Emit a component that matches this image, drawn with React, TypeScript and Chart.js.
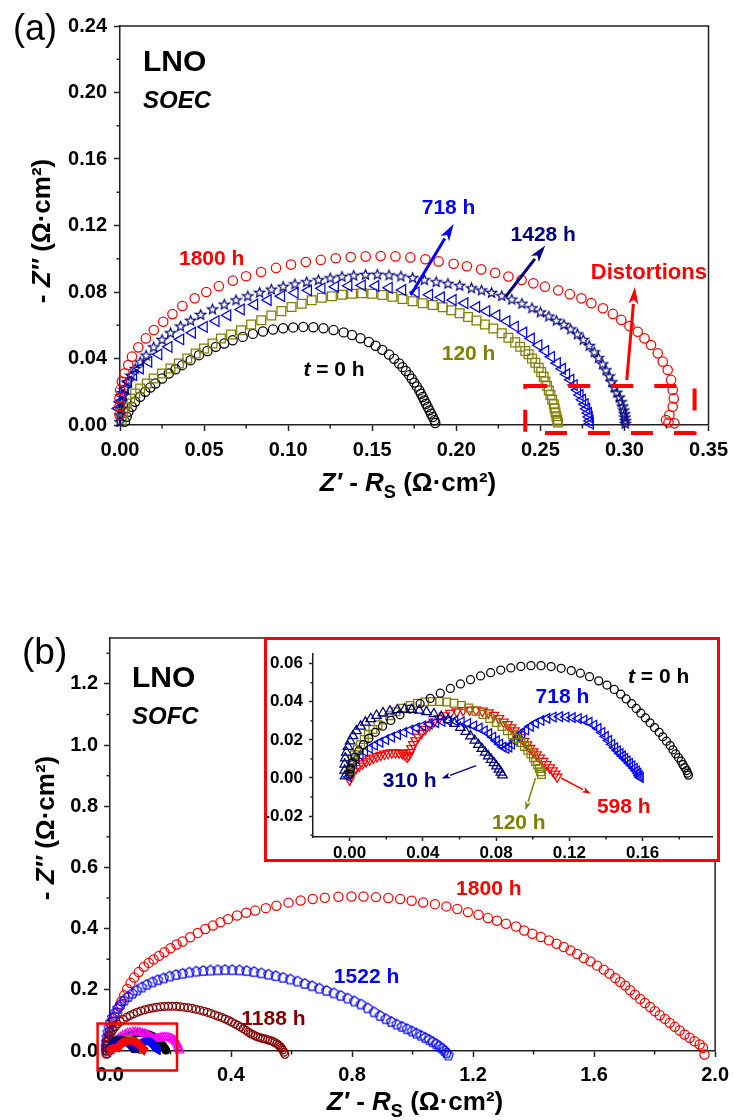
import React, { useEffect, useRef } from 'react';
import { Chart, registerables } from 'chart.js';
Chart.register(...registerables);

const FONT = '"Liberation Sans", Arial, Helvetica, sans-serif';
const RED = '#ff0000', BLUE = '#0000ff', NAVY = '#000080', OLIVE = '#808000', MAROON = '#800000', MAG = '#ff00ff', BLACK = '#000000';

type Pt = [number, number];

// ---------- Panel (a): SOEC, [Z' - Rs, -Z''] (ohm cm2) ----------
const A_T0: Pt[] = [[0.003,0.002],[0.004,0.005],[0.005,0.008],[0.007,0.011],[0.009,0.014],[0.012,0.017],[0.015,0.020],[0.018,0.0225],[0.021,0.025],[0.025,0.028],[0.029,0.031],[0.033,0.0335],[0.037,0.036],[0.042,0.039],[0.047,0.042],[0.052,0.0445],[0.057,0.047],[0.062,0.049],[0.067,0.051],[0.073,0.053],[0.079,0.0548],[0.085,0.0562],[0.091,0.0574],[0.097,0.0582],[0.103,0.0587],[0.109,0.059],[0.115,0.0588],[0.121,0.0582],[0.127,0.0571],[0.133,0.0557],[0.138,0.0541],[0.143,0.0522],[0.148,0.0499],[0.152,0.0477],[0.156,0.0452],[0.160,0.0424],[0.163,0.0398],[0.166,0.0370],[0.168,0.0348],[0.170,0.0325],[0.172,0.0300],[0.1735,0.0278],[0.175,0.0255],[0.1765,0.0232],[0.178,0.0208],[0.179,0.0188],[0.180,0.0168],[0.181,0.0148],[0.182,0.0128],[0.183,0.0108],[0.184,0.0088],[0.185,0.0068],[0.186,0.0048],[0.187,0.0028],[0.1875,0.0012]];
const A_120: Pt[] = [[0.001,0.003],[0.002,0.007],[0.003,0.010],[0.004,0.013],[0.006,0.016],[0.009,0.019],[0.012,0.022],[0.016,0.025],[0.020,0.028],[0.025,0.031],[0.030,0.034],[0.035,0.037],[0.040,0.040],[0.045,0.043],[0.050,0.046],[0.055,0.049],[0.060,0.052],[0.066,0.0545],[0.072,0.057],[0.078,0.0605],[0.084,0.063],[0.090,0.0658],[0.096,0.0685],[0.102,0.071],[0.108,0.073],[0.114,0.075],[0.120,0.0765],[0.126,0.0775],[0.132,0.0783],[0.138,0.0789],[0.144,0.0792],[0.150,0.079],[0.156,0.0782],[0.162,0.0771],[0.168,0.0758],[0.174,0.0744],[0.180,0.0732],[0.186,0.0722],[0.192,0.0708],[0.197,0.069],[0.202,0.0672],[0.207,0.065],[0.212,0.0628],[0.217,0.0605],[0.222,0.058],[0.227,0.0552],[0.231,0.0525],[0.235,0.0497],[0.238,0.047],[0.241,0.0445],[0.243,0.0425],[0.245,0.040],[0.247,0.0375],[0.249,0.0345],[0.2505,0.0318],[0.252,0.029],[0.253,0.0262],[0.254,0.0235],[0.255,0.0208],[0.256,0.018],[0.257,0.0152],[0.258,0.0125],[0.2585,0.010],[0.259,0.0076],[0.2595,0.0053],[0.260,0.0032],[0.2605,0.0015]];
const A_718: Pt[] = [[-0.003,0.001],[-0.003,0.003],[-0.002,0.006],[-0.001,0.010],[0.000,0.014],[0.001,0.018],[0.003,0.022],[0.005,0.026],[0.008,0.030],[0.012,0.034],[0.017,0.038],[0.023,0.0425],[0.029,0.047],[0.036,0.0515],[0.043,0.0555],[0.050,0.059],[0.057,0.0625],[0.064,0.066],[0.072,0.0695],[0.080,0.0725],[0.088,0.0752],[0.096,0.0775],[0.104,0.0795],[0.112,0.081],[0.120,0.0822],[0.128,0.0832],[0.136,0.0838],[0.144,0.084],[0.152,0.0836],[0.160,0.0826],[0.168,0.0812],[0.176,0.0798],[0.184,0.0783],[0.191,0.0768],[0.198,0.0752],[0.205,0.0733],[0.212,0.071],[0.218,0.0685],[0.224,0.066],[0.230,0.0625],[0.235,0.0592],[0.240,0.0556],[0.2445,0.052],[0.249,0.048],[0.253,0.0445],[0.2565,0.041],[0.260,0.0372],[0.263,0.0338],[0.2655,0.0305],[0.268,0.0272],[0.270,0.024],[0.272,0.021],[0.2735,0.018],[0.275,0.0152],[0.2765,0.0125],[0.2775,0.0098],[0.2785,0.0072],[0.279,0.0048],[0.2795,0.0025],[0.2797,0.0008]];
const A_1428: Pt[] = [[0.000,0.002],[0.000,0.006],[0.0005,0.010],[0.001,0.014],[0.002,0.018],[0.003,0.022],[0.0045,0.026],[0.0065,0.030],[0.009,0.034],[0.012,0.038],[0.0155,0.042],[0.020,0.047],[0.025,0.0515],[0.030,0.0555],[0.036,0.0595],[0.042,0.063],[0.048,0.0665],[0.055,0.0698],[0.062,0.0727],[0.069,0.0753],[0.076,0.0777],[0.083,0.0798],[0.090,0.0817],[0.097,0.0834],[0.104,0.0849],[0.111,0.0862],[0.118,0.0874],[0.125,0.0885],[0.132,0.0894],[0.139,0.0901],[0.146,0.0906],[0.153,0.0907],[0.160,0.0903],[0.167,0.0896],[0.174,0.0887],[0.181,0.0874],[0.188,0.0862],[0.195,0.0852],[0.202,0.0840],[0.209,0.0825],[0.215,0.0812],[0.221,0.0797],[0.227,0.0778],[0.233,0.0757],[0.239,0.0732],[0.245,0.0705],[0.250,0.068],[0.255,0.0655],[0.2595,0.063],[0.264,0.0605],[0.268,0.0578],[0.272,0.0548],[0.2755,0.0515],[0.279,0.0478],[0.282,0.044],[0.2845,0.0405],[0.287,0.0368],[0.289,0.0332],[0.291,0.0295],[0.2925,0.026],[0.294,0.0228],[0.2955,0.0197],[0.297,0.0168],[0.298,0.014],[0.299,0.0114],[0.2995,0.009],[0.300,0.0068],[0.3003,0.0047],[0.3005,0.0027],[0.3005,0.001]];
const A_1800: Pt[] = [[-0.0003,0.006],[-0.0003,0.0112],[-0.0003,0.0161],[0.0001,0.0211],[0.0011,0.0261],[0.0027,0.0311],[0.0049,0.0361],[0.0071,0.0411],[0.0109,0.0467],[0.0154,0.0521],[0.0201,0.0571],[0.0257,0.0621],[0.0312,0.0667],[0.0371,0.0716],[0.0444,0.0762],[0.0513,0.080],[0.0588,0.0835],[0.0671,0.0868],[0.075,0.0895],[0.0839,0.092],[0.0928,0.0945],[0.1017,0.0965],[0.1105,0.098],[0.1194,0.0993],[0.1283,0.1003],[0.1372,0.101],[0.1461,0.1014],[0.155,0.1016],[0.1638,0.1014],[0.1727,0.1008],[0.1816,0.0997],[0.1895,0.0984],[0.1984,0.0970],[0.2063,0.0955],[0.2148,0.0936],[0.2231,0.0915],[0.231,0.0893],[0.2388,0.0872],[0.2458,0.0852],[0.2527,0.0832],[0.2606,0.0810],[0.2675,0.0787],[0.2744,0.0762],[0.2803,0.0733],[0.2872,0.0702],[0.2931,0.0668],[0.2981,0.0632],[0.303,0.0595],[0.3079,0.0561],[0.3119,0.0521],[0.3158,0.0481],[0.3198,0.0431],[0.3228,0.0381],[0.3257,0.0331],[0.3277,0.0271],[0.3287,0.0211],[0.3293,0.016],[0.3287,0.011],[0.3267,0.006],[0.3247,0.003],[0.3262,0.0015],[0.3297,0.001]];

// ---------- Panel (b): SOFC main ----------
const B_1800: Pt[] = [[-0.012,-0.008],[-0.013,0.005],[-0.012,0.018],[-0.009,0.032],[-0.005,0.047],[0.000,0.062],[0.005,0.078],[0.011,0.094],[0.017,0.11],[0.024,0.126],[0.031,0.145],[0.038,0.163],[0.047,0.182],[0.057,0.203],[0.068,0.222],[0.08,0.24],[0.095,0.258],[0.112,0.275],[0.128,0.288],[0.144,0.299],[0.162,0.311],[0.18,0.323],[0.2,0.336],[0.22,0.348],[0.24,0.358],[0.265,0.372],[0.29,0.386],[0.315,0.399],[0.34,0.41],[0.365,0.421],[0.39,0.431],[0.42,0.443],[0.45,0.452],[0.48,0.459],[0.515,0.467],[0.55,0.475],[0.59,0.485],[0.63,0.492],[0.67,0.497],[0.71,0.501],[0.755,0.504],[0.798,0.505],[0.838,0.505],[0.879,0.503],[0.92,0.5],[0.959,0.4966],[0.997,0.491],[1.035,0.4856],[1.074,0.48],[1.112,0.4726],[1.148,0.464],[1.183,0.454],[1.218,0.4454],[1.249,0.4345],[1.279,0.4258],[1.309,0.416],[1.342,0.407],[1.369,0.394],[1.396,0.3834],[1.424,0.3725],[1.451,0.3616],[1.476,0.3507],[1.5,0.34],[1.522,0.329],[1.544,0.317],[1.566,0.304],[1.588,0.293],[1.61,0.279],[1.632,0.266],[1.651,0.253],[1.67,0.2388],[1.686,0.2257],[1.703,0.2137],[1.719,0.1984],[1.735,0.1843],[1.752,0.17],[1.768,0.157],[1.785,0.144],[1.801,0.13],[1.817,0.117],[1.834,0.105],[1.85,0.092],[1.867,0.079],[1.883,0.0669],[1.899,0.0538],[1.916,0.043],[1.932,0.032],[1.949,0.0212],[1.96,0.0104],[1.965,-0.0114]];
const B_1522: Pt[] = [[-0.012,0.0],[-0.013,0.015],[-0.012,0.03],[-0.01,0.046],[-0.007,0.062],[-0.003,0.078],[0.002,0.094],[0.008,0.11],[0.016,0.125],[0.025,0.14],[0.035,0.153],[0.047,0.166],[0.06,0.178],[0.074,0.189],[0.089,0.199],[0.105,0.209],[0.122,0.218],[0.14,0.226],[0.158,0.233],[0.177,0.239],[0.197,0.245],[0.218,0.25],[0.24,0.254],[0.262,0.258],[0.285,0.261],[0.308,0.263],[0.332,0.2645],[0.356,0.2655],[0.38,0.266],[0.404,0.2658],[0.428,0.265],[0.452,0.2628],[0.476,0.2595],[0.5,0.2555],[0.524,0.251],[0.548,0.2462],[0.572,0.241],[0.596,0.2352],[0.62,0.2285],[0.644,0.221],[0.668,0.2135],[0.692,0.2055],[0.716,0.198],[0.74,0.19],[0.763,0.182],[0.786,0.173],[0.808,0.1635],[0.83,0.1535],[0.852,0.141],[0.873,0.128],[0.893,0.116],[0.912,0.1055],[0.93,0.0965],[0.948,0.088],[0.965,0.0805],[0.982,0.0728],[0.998,0.0655],[1.013,0.0585],[1.028,0.0515],[1.042,0.0445],[1.055,0.0375],[1.067,0.0305],[1.078,0.0235],[1.088,0.0165],[1.097,0.0095],[1.105,0.0025],[1.112,-0.005],[1.118,-0.013],[1.124,-0.021],[1.129,-0.029],[1.133,-0.037],[1.136,-0.044],[1.139,-0.05]];
const B_1188: Pt[] = [[-0.01,-0.01],[-0.011,0.0],[-0.011,0.01],[-0.01,0.02],[-0.008,0.03],[-0.005,0.04],[-0.001,0.05],[0.004,0.06],[0.01,0.07],[0.017,0.079],[0.025,0.088],[0.034,0.096],[0.044,0.103],[0.055,0.11],[0.066,0.116],[0.078,0.1215],[0.09,0.1265],[0.102,0.131],[0.115,0.1348],[0.128,0.138],[0.141,0.1408],[0.154,0.143],[0.167,0.1447],[0.18,0.1457],[0.193,0.1462],[0.206,0.1462],[0.219,0.1458],[0.232,0.1448],[0.245,0.1433],[0.258,0.1415],[0.271,0.1393],[0.284,0.1367],[0.297,0.1335],[0.31,0.13],[0.322,0.1262],[0.334,0.1222],[0.346,0.118],[0.358,0.1137],[0.37,0.1092],[0.381,0.1045],[0.392,0.0995],[0.402,0.0945],[0.412,0.0893],[0.422,0.084],[0.431,0.0785],[0.44,0.073],[0.449,0.0675],[0.457,0.062],[0.465,0.0572],[0.473,0.0528],[0.481,0.049],[0.489,0.0458],[0.497,0.0432],[0.505,0.041],[0.513,0.039],[0.521,0.037],[0.529,0.0345],[0.537,0.0315],[0.544,0.028],[0.551,0.024],[0.557,0.0195],[0.562,0.0145],[0.567,0.009],[0.571,0.003],[0.575,-0.004],[0.578,-0.011],[0.581,-0.018],[0.5835,-0.025]];
const B_MAG: Pt[] = [[0.0,0.0],[0.002,0.006],[0.005,0.013],[0.009,0.02],[0.014,0.027],[0.02,0.034],[0.027,0.04],[0.034,0.046],[0.042,0.051],[0.05,0.055],[0.058,0.0585],[0.066,0.0605],[0.075,0.062],[0.083,0.0625],[0.091,0.0622],[0.099,0.061],[0.106,0.0592],[0.113,0.057],[0.119,0.0545],[0.125,0.0515],[0.131,0.048],[0.136,0.0445],[0.141,0.0415],[0.146,0.0398],[0.151,0.0396],[0.156,0.0405],[0.162,0.042],[0.168,0.0435],[0.174,0.0445],[0.18,0.045],[0.186,0.0448],[0.192,0.044],[0.198,0.0425],[0.204,0.0403],[0.209,0.0375],[0.214,0.034],[0.218,0.03],[0.221,0.025],[0.224,0.019],[0.226,0.013],[0.228,0.007],[0.23,0.002]];

// ---------- Panel (b) inset ----------
const I_T0: Pt[] = [[0.0,0.002],[0.0005,0.005],[0.0015,0.008],[0.003,0.011],[0.005,0.0142],[0.0075,0.0175],[0.0105,0.0208],[0.014,0.024],[0.018,0.0272],[0.0225,0.0302],[0.0275,0.0332],[0.033,0.0362],[0.0385,0.039],[0.044,0.0418],[0.0495,0.0445],[0.055,0.047],[0.0605,0.0494],[0.066,0.0516],[0.0715,0.0536],[0.077,0.0553],[0.0825,0.0567],[0.088,0.0578],[0.0935,0.0586],[0.099,0.059],[0.1045,0.059],[0.11,0.0585],[0.1155,0.0576],[0.121,0.0564],[0.126,0.055],[0.131,0.0532],[0.136,0.051],[0.1405,0.0488],[0.1445,0.0465],[0.148,0.044],[0.151,0.0415],[0.154,0.039],[0.1565,0.0365],[0.159,0.034],[0.1615,0.0315],[0.164,0.029],[0.1665,0.0265],[0.169,0.024],[0.171,0.0216],[0.173,0.0193],[0.175,0.017],[0.1765,0.0148],[0.178,0.0127],[0.1795,0.0107],[0.181,0.0088],[0.182,0.007],[0.183,0.0054],[0.184,0.0039],[0.1845,0.0026],[0.185,0.0015]];
const I_120: Pt[] = [[0.0,0.0015],[0.0003,0.004],[0.0008,0.0068],[0.0015,0.0095],[0.0027,0.0122],[0.0042,0.0148],[0.006,0.0175],[0.008,0.0202],[0.0102,0.0228],[0.0127,0.0254],[0.0155,0.0279],[0.0185,0.0304],[0.0218,0.0327],[0.0253,0.0348],[0.029,0.0366],[0.033,0.0381],[0.037,0.0392],[0.041,0.0399],[0.045,0.0402],[0.049,0.0402],[0.053,0.0399],[0.057,0.0392],[0.061,0.0381],[0.065,0.0367],[0.069,0.0351],[0.0728,0.0333],[0.0765,0.0313],[0.08,0.0292],[0.0832,0.027],[0.0862,0.0248],[0.0888,0.0227],[0.0912,0.0207],[0.0935,0.0187],[0.0955,0.0166],[0.0973,0.0146],[0.099,0.0126],[0.1004,0.0106],[0.1016,0.0087],[0.1027,0.0068],[0.1036,0.005],[0.1043,0.0033],[0.1048,0.0018]];
const I_310: Pt[] = [[-0.0025,0.001],[-0.0027,0.004],[-0.0027,0.0072],[-0.0024,0.0104],[-0.0018,0.0135],[-0.0009,0.0165],[0.0003,0.0194],[0.0018,0.0221],[0.0037,0.0247],[0.006,0.0271],[0.0086,0.0292],[0.0115,0.0311],[0.0147,0.0328],[0.0182,0.0341],[0.022,0.0351],[0.026,0.0357],[0.03,0.036],[0.034,0.0359],[0.038,0.0355],[0.042,0.0347],[0.046,0.0336],[0.05,0.0322],[0.0538,0.0305],[0.0573,0.0286],[0.0605,0.0265],[0.0634,0.0243],[0.066,0.022],[0.0683,0.0197],[0.0703,0.0175],[0.0722,0.0154],[0.074,0.0134],[0.0757,0.0115],[0.0773,0.0097],[0.0788,0.0079],[0.0802,0.0062],[0.0815,0.0045],[0.0826,0.003],[0.0835,0.0015]];
const I_598: Pt[] = [[0.0,-0.001],[0.0008,0.0015],[0.002,0.0035],[0.0035,0.005],[0.0052,0.0063],[0.007,0.0075],[0.009,0.0086],[0.011,0.0096],[0.013,0.0105],[0.015,0.0113],[0.017,0.012],[0.019,0.0126],[0.021,0.013],[0.023,0.0133],[0.025,0.0134],[0.027,0.0133],[0.0288,0.0129],[0.0303,0.0121],[0.0313,0.011],[0.0322,0.0118],[0.033,0.0135],[0.0338,0.0155],[0.0348,0.0176],[0.036,0.0196],[0.0375,0.0216],[0.0393,0.0236],[0.0413,0.0256],[0.0435,0.0276],[0.046,0.0295],[0.0488,0.0313],[0.0518,0.0328],[0.055,0.034],[0.0585,0.0349],[0.062,0.0355],[0.0655,0.0358],[0.069,0.0357],[0.0725,0.0352],[0.0758,0.0343],[0.0788,0.033],[0.0815,0.0313],[0.084,0.0294],[0.0862,0.0281],[0.0882,0.0265],[0.09,0.0248],[0.0918,0.023],[0.0935,0.0212],[0.0952,0.0193],[0.0968,0.0175],[0.0985,0.0157],[0.1002,0.0139],[0.102,0.0122],[0.1038,0.0105],[0.1056,0.0088],[0.1074,0.0071],[0.1092,0.0054],[0.1108,0.0038],[0.1122,0.0022],[0.1133,0.0006]];
const I_718: Pt[] = [[-0.0005,0.0005],[0.0,0.003],[0.0008,0.0055],[0.002,0.0078],[0.0037,0.01],[0.0058,0.012],[0.0082,0.0139],[0.0108,0.0156],[0.0136,0.0172],[0.0166,0.0187],[0.0197,0.0201],[0.0229,0.0215],[0.0262,0.0228],[0.0296,0.024],[0.033,0.0252],[0.0365,0.0263],[0.04,0.0274],[0.0435,0.0283],[0.047,0.0291],[0.0505,0.0297],[0.054,0.03],[0.0575,0.03],[0.061,0.0295],[0.0645,0.0286],[0.0678,0.0274],[0.0708,0.0262],[0.0736,0.0248],[0.076,0.0233],[0.0782,0.0215],[0.0802,0.0196],[0.082,0.0178],[0.0838,0.0162],[0.0855,0.0155],[0.087,0.0162],[0.0885,0.0177],[0.0902,0.0196],[0.092,0.0215],[0.094,0.0234],[0.0962,0.0252],[0.0987,0.0271],[0.1015,0.0288],[0.1045,0.0302],[0.1078,0.0313],[0.1112,0.032],[0.1147,0.0322],[0.1182,0.032],[0.1216,0.0317],[0.1249,0.0312],[0.128,0.0304],[0.1308,0.0293],[0.1334,0.0278],[0.1357,0.026],[0.1378,0.0239],[0.1397,0.0218],[0.1415,0.0197],[0.1432,0.0177],[0.1448,0.0159],[0.1463,0.0143],[0.1477,0.0129],[0.149,0.0116],[0.1503,0.0103],[0.1516,0.009],[0.1529,0.0077],[0.1542,0.0064],[0.1555,0.0051],[0.1566,0.0038],[0.1575,0.0025],[0.1582,0.0012],[0.1588,0.0002]];

// ---------- ticks ----------
const A_XT = [0, 0.05, 0.1, 0.15, 0.2, 0.25, 0.3, 0.35];
const A_YT = [0, 0.04, 0.08, 0.12, 0.16, 0.2, 0.24];
const A_XMINOR = [0.025, 0.075, 0.125, 0.175, 0.225, 0.275, 0.325];
const A_YMINOR = [0.02, 0.06, 0.1, 0.14, 0.18, 0.22];
const B_XT = [0, 0.4, 0.8, 1.2, 1.6, 2.0];
const B_YT = [0, 0.2, 0.4, 0.6, 0.8, 1.0, 1.2];
const B_XMINOR = [0.2, 0.6, 1.0, 1.4, 1.8];
const B_YMINOR = [0.1, 0.3, 0.5, 0.7, 0.9, 1.1, 1.3];
const I_XT = [0, 0.04, 0.08, 0.12, 0.16];
const I_YT = [-0.02, 0, 0.02, 0.04, 0.06];
const I_XMINOR = [0.02, 0.06, 0.1, 0.14, 0.18];
const I_YMINOR = [-0.03, -0.01, 0.01, 0.03, 0.05];

type Part = { t: string; it?: boolean; sub?: boolean };

function partFont(p: Part, size: number, weight: string) {
  const s = p.sub ? size * 0.7 : size;
  return `${p.it ? 'italic ' : ''}${weight} ${s}px ${FONT}`;
}
function drawParts(ctx: CanvasRenderingContext2D, parts: Part[], x: number, y: number, size: number, color: string, align: string, weight = 'bold', baseline: CanvasTextBaseline = 'middle') {
  ctx.textBaseline = baseline;
  ctx.textAlign = 'left';
  ctx.fillStyle = color;
  let w = 0;
  for (const p of parts) { ctx.font = partFont(p, size, weight); w += ctx.measureText(p.t).width; }
  let cx = align === 'center' ? x - w / 2 : x;
  for (const p of parts) {
    ctx.font = partFont(p, size, weight);
    ctx.fillText(p.t, cx, y + (p.sub ? size * 0.28 : 0));
    cx += ctx.measureText(p.t).width;
  }
}
function drawArrow(ctx: CanvasRenderingContext2D, x1: number, y1: number, x2: number, y2: number, color: string, lw: number, hl: number, hw: number) {
  const a = Math.atan2(y2 - y1, x2 - x1);
  const bx = x2 - hl * Math.cos(a), by = y2 - hl * Math.sin(a);
  ctx.strokeStyle = color; ctx.lineWidth = lw; ctx.setLineDash([]);
  ctx.beginPath(); ctx.moveTo(x1, y1); ctx.lineTo(bx, by); ctx.stroke();
  ctx.fillStyle = color;
  ctx.beginPath();
  ctx.moveTo(x2, y2);
  ctx.lineTo(bx + (hw / 2) * Math.sin(a), by - (hw / 2) * Math.cos(a));
  ctx.lineTo(bx + 0.25 * hl * Math.cos(a), by + 0.25 * hl * Math.sin(a));
  ctx.lineTo(bx - (hw / 2) * Math.sin(a), by + (hw / 2) * Math.cos(a));
  ctx.closePath(); ctx.fill();
}

const decorPlugin = {
  id: 'decor',
  afterDraw(chart: any) {
    const o = chart.options.plugins.decor;
    if (!o) return;
    const ctx: CanvasRenderingContext2D = chart.ctx;
    const xs = chart.scales.x, ys = chart.scales.y, ca = chart.chartArea;
    const X = (v: number) => xs.getPixelForValue(v);
    const Y = (v: number) => ys.getPixelForValue(v);
    ctx.save();
    ctx.strokeStyle = '#222'; ctx.lineWidth = 1.5;
    if (o.frame) {
      ctx.beginPath(); ctx.moveTo(ca.left, ca.top); ctx.lineTo(ca.right, ca.top); ctx.lineTo(ca.right, ca.bottom); ctx.stroke();
    }
    for (const v of o.minorX || []) { const px = X(v); ctx.beginPath(); ctx.moveTo(px, ca.bottom); ctx.lineTo(px, ca.bottom + o.minorLen); ctx.stroke(); }
    for (const v of o.minorY || []) { const py = Y(v); ctx.beginPath(); ctx.moveTo(ca.left, py); ctx.lineTo(ca.left - o.minorLen, py); ctx.stroke(); }
    for (const r of o.rects || []) {
      ctx.strokeStyle = r.color; ctx.lineWidth = r.lw; ctx.setLineDash(r.dash || []);
      ctx.strokeRect(X(r.x1), Y(r.y1), X(r.x2) - X(r.x1), Y(r.y2) - Y(r.y1));
    }
    ctx.setLineDash([]);
    for (const a of o.arrows || []) drawArrow(ctx, X(a.x1), Y(a.y1), X(a.x2), Y(a.y2), a.color, a.lw, a.hl, a.hw);
    for (const l of o.labels || []) drawParts(ctx, l.parts, X(l.x), Y(l.y), l.size, l.color, 'center');
    for (const t of o.texts || []) drawParts(ctx, t.parts, t.px, t.py, t.size, t.color || '#000', t.align || 'left', t.weight || 'bold', t.baseline || 'alphabetic');
    if (o.xTitle) drawParts(ctx, o.xTitle.parts, o.xTitle.cx, o.xTitle.by, o.xTitle.size, '#000', 'center', 'bold', 'alphabetic');
    if (o.yTitle) {
      ctx.save();
      ctx.translate(o.yTitle.bx, o.yTitle.cy);
      ctx.rotate(-Math.PI / 2);
      drawParts(ctx, o.yTitle.parts, 0, 0, o.yTitle.size, '#000', 'center', 'bold', 'alphabetic');
      ctx.restore();
    }
    ctx.restore();
  },
};

function makeStar(color: string) {
  const c = document.createElement('canvas');
  c.width = 13; c.height = 13;
  const g = c.getContext('2d')!;
  g.strokeStyle = color; g.lineWidth = 1.15; g.beginPath();
  for (let i = 0; i < 10; i++) {
    const r = i % 2 === 0 ? 5.3 : 2.3;
    const a = -Math.PI / 2 + (i * Math.PI) / 5;
    const px = 6.5 + r * Math.cos(a), py = 7 + r * Math.sin(a);
    if (i === 0) g.moveTo(px, py); else g.lineTo(px, py);
  }
  g.closePath(); g.stroke();
  return c;
}
function makePentagon(color: string) {
  const c = document.createElement('canvas');
  c.width = 13; c.height = 13;
  const g = c.getContext('2d')!;
  g.strokeStyle = color; g.lineWidth = 1.2; g.beginPath();
  for (let i = 0; i < 5; i++) {
    const a = -Math.PI / 2 + (i * 2 * Math.PI) / 5;
    const px = 6.5 + 5.1 * Math.cos(a), py = 6.9 + 5.1 * Math.sin(a);
    if (i === 0) g.moveTo(px, py); else g.lineTo(px, py);
  }
  g.closePath(); g.stroke();
  return c;
}

function ds(data: Pt[], color: string, style: any, r: number, rot = 0, bw = 1.25) {
  return {
    data: data.map((p) => ({ x: p[0], y: p[1] })),
    showLine: false,
    pointStyle: style,
    pointRadius: r,
    pointRotation: rot,
    pointBorderColor: color,
    pointBackgroundColor: 'rgba(0,0,0,0)',
    pointBorderWidth: bw,
    borderColor: color,
    backgroundColor: 'rgba(0,0,0,0)',
    clip: false,
  };
}

function axis(isX: boolean, min: number, max: number, ticksArr: number[], digits: number, fontSize: number, tl: number, pad: number, fit: number) {
  return {
    type: 'linear',
    position: isX ? 'bottom' : 'left',
    min, max,
    afterBuildTicks: (s: any) => { s.ticks = ticksArr.map((v) => ({ value: v })); },
    afterFit: (s: any) => { if (isX) s.height = fit; else s.width = fit; },
    ticks: {
      autoSkip: false, maxRotation: 0, minRotation: 0, padding: pad, color: '#000',
      font: { family: FONT, size: fontSize, weight: 'bold' },
      callback: (v: any) => Number(v).toFixed(digits),
    },
    grid: { display: true, drawOnChartArea: false, drawTicks: true, tickLength: tl, tickWidth: 1.5, color: '#222' },
    border: { display: true, color: '#222', width: 1.5 },
    title: { display: false },
  };
}

const yTitleParts: Part[] = [{ t: '- ' }, { t: 'Z″', it: true }, { t: ' (Ω·cm²)' }];
const xTitleParts: Part[] = [{ t: 'Z′', it: true }, { t: ' - ' }, { t: 'R', it: true }, { t: 'S', sub: true }, { t: ' (Ω·cm²)' }];
const hParts = (s: string): Part[] => [{ t: s }];
const t0Parts: Part[] = [{ t: 't', it: true }, { t: ' = 0 h' }];

function baseOptions(padding: any, decor: any, scales: any) {
  return {
    responsive: false,
    maintainAspectRatio: false,
    animation: false,
    devicePixelRatio: 1,
    events: [],
    layout: { padding },
    plugins: { legend: { display: false }, tooltip: { enabled: false }, decor },
    scales,
  };
}

function makeA() {
  const star = makeStar(NAVY);
  return {
    type: 'scatter',
    data: {
      datasets: [
        ds(A_1800, RED, 'circle', 4.7),
        ds(A_1428, NAVY, star, 5),
        ds(A_718, BLUE, 'triangle', 6.2, 270),
        ds(A_120, OLIVE, 'rect', 6.2),
        ds(A_T0, BLACK, 'circle', 4.6),
      ],
    },
    options: baseOptions(
      { left: 0, top: 26, right: 24, bottom: 0 },
      {
        frame: true, minorLen: 3.5, minorX: A_XMINOR, minorY: A_YMINOR,
        rects: [{ x1: 0.241, y1: 0.0235, x2: 0.3417, y2: -0.0048, color: RED, lw: 4, dash: [22, 21] }],
        arrows: [
          { x1: 0.1729, y1: 0.0782, x2: 0.1984, y2: 0.1209, color: BLUE, lw: 3, hl: 17, hw: 10 },
          { x1: 0.2292, y1: 0.077, x2: 0.2529, y2: 0.108, color: NAVY, lw: 3, hl: 17, hw: 10 },
          { x1: 0.3014, y1: 0.027, x2: 0.3062, y2: 0.083, color: RED, lw: 3, hl: 17, hw: 10 },
        ],
        labels: [
          { x: 0.0545, y: 0.0998, parts: hParts('1800 h'), color: RED, size: 21 },
          { x: 0.1273, y: 0.0331, parts: t0Parts, color: BLACK, size: 21 },
          { x: 0.2073, y: 0.0427, parts: hParts('120 h'), color: OLIVE, size: 21 },
          { x: 0.1954, y: 0.1305, parts: hParts('718 h'), color: BLUE, size: 21 },
          { x: 0.2517, y: 0.1143, parts: hParts('1428 h'), color: NAVY, size: 21 },
          { x: 0.3145, y: 0.0914, parts: hParts('Distortions'), color: RED, size: 22 },
        ],
        texts: [
          { px: 13, py: 40, parts: hParts('(a)'), size: 36, weight: 'normal' },
          { px: 143, py: 71, parts: hParts('LNO'), size: 30 },
          { px: 143, py: 108, parts: [{ t: 'SOEC', it: true }], size: 24 },
        ],
        xTitle: { parts: xTitleParts, cx: 408, by: 491, size: 26 },
        yTitle: { parts: yTitleParts, bx: 50, cy: 231, size: 26 },
      },
      {
        x: axis(true, 0, 0.35, A_XT, 2, 20, 6, 7, 135),
        y: axis(false, 0, 0.24, A_YT, 2, 20, 6, 7, 120),
      }
    ),
    plugins: [decorPlugin],
  };
}

function makeB() {
  const pent = makePentagon(BLUE);
  return {
    type: 'scatter',
    data: {
      datasets: [
        ds(I_598, RED, 'triangle', 4, 180, 1.1),
        ds(I_718, BLUE, 'triangle', 4, 270, 1.1),
        ds(I_310, NAVY, 'triangle', 3.8, 0, 1.1),
        ds(I_120, OLIVE, 'rect', 4.2, 0, 1.1),
        ds(B_MAG, MAG, 'triangle', 4.8, 0, 1.2),
        ds(I_T0, BLACK, 'circle', 3.4, 0, 1.1),
        ds(B_1188, MAROON, 'circle', 3.9),
        ds(B_1522, BLUE, pent, 4.5),
        ds(B_1800, RED, 'circle', 4.6),
      ],
    },
    options: baseOptions(
      { left: 0, top: 78, right: 16, bottom: 0 },
      {
        frame: true, minorLen: 3.5, minorX: B_XMINOR, minorY: B_YMINOR,
        rects: [{ x1: -0.041, y1: 0.0897, x2: 0.2215, y2: -0.0636, color: RED, lw: 2.5 }],
        labels: [
          { x: 1.252, y: 0.53, parts: hParts('1800 h'), color: RED, size: 21 },
          { x: 0.848, y: 0.24, parts: hParts('1522 h'), color: BLUE, size: 21 },
          { x: 0.54, y: 0.103, parts: hParts('1188 h'), color: MAROON, size: 21 },
        ],
        texts: [
          { px: 22, py: 104, parts: hParts('(b)'), size: 37, weight: 'normal' },
          { px: 132, py: 127, parts: hParts('LNO'), size: 30 },
          { px: 132, py: 164, parts: [{ t: 'SOFC', it: true }], size: 24 },
        ],
        xTitle: { parts: xTitleParts, cx: 415, by: 550, size: 26 },
        yTitle: { parts: yTitleParts, bx: 54, cy: 268, size: 26 },
      },
      {
        x: axis(true, 0, 2.0, B_XT, 1, 20, 6, 6, 69),
        y: axis(false, 0, 1.35, B_YT, 1, 20, 6, 6, 110),
      }
    ),
    plugins: [decorPlugin],
  };
}

function makeInset() {
  return {
    type: 'scatter',
    data: {
      datasets: [
        ds(I_T0, BLACK, 'circle', 4),
        ds(I_310, NAVY, 'triangle', 5.5, 0),
        ds(I_120, OLIVE, 'rect', 5.5),
        ds(I_718, BLUE, 'triangle', 5.5, 270),
        ds(I_598, RED, 'triangle', 5.5, 180),
      ],
    },
    options: baseOptions(
      { left: 0, top: 2, right: 4, bottom: 0 },
      {
        frame: false, minorLen: 2.5, minorX: I_XMINOR, minorY: I_YMINOR,
        arrows: [
          { x1: 0.0691, y1: 0.0065, x2: 0.0502, y2: -0.0003, color: NAVY, lw: 1.5, hl: 9, hw: 6 },
          { x1: 0.1015, y1: 0.0, x2: 0.096, y2: -0.017, color: OLIVE, lw: 1.5, hl: 9, hw: 6 },
          { x1: 0.1155, y1: 0.0, x2: 0.1318, y2: -0.0083, color: RED, lw: 1.5, hl: 9, hw: 6 },
        ],
        labels: [
          { x: 0.1687, y: 0.0527, parts: t0Parts, color: BLACK, size: 21 },
          { x: 0.1162, y: 0.0426, parts: hParts('718 h'), color: BLUE, size: 21 },
          { x: 0.0328, y: -0.0018, parts: hParts('310 h'), color: NAVY, size: 21 },
          { x: 0.0924, y: -0.0237, parts: hParts('120 h'), color: OLIVE, size: 21 },
          { x: 0.1497, y: -0.0153, parts: hParts('598 h'), color: RED, size: 21 },
        ],
      },
      {
        x: axis(true, -0.02, 0.198, I_XT, 2, 17, 4, 2, 24),
        y: axis(false, -0.031, 0.065, I_YT, 2, 17, 4, 6, 48),
      }
    ),
    plugins: [decorPlugin],
  };
}

function ChartBox({ make, left, top, w, h, bg }: { make: () => any; left: number; top: number; w: number; h: number; bg?: string }) {
  const ref = useRef<HTMLCanvasElement>(null);
  useEffect(() => {
    const chart = new Chart(ref.current as HTMLCanvasElement, make());
    return () => chart.destroy();
  }, []);
  return (
    <canvas
      ref={ref}
      width={w}
      height={h}
      style={{ position: 'absolute', left, top, width: w, height: h, background: bg || 'transparent', display: 'block' }}
    />
  );
}

export default function App() {
  return (
    <div style={{ position: 'absolute', left: 0, top: 0, width: 735, height: 1120, background: '#fff', overflow: 'hidden' }}>
      <ChartBox make={makeA} left={0} top={0} w={735} h={560} />
      <ChartBox make={makeB} left={0} top={560} w={735} h={560} />
      <ChartBox make={makeInset} left={265} top={638} w={454} h={223} bg="#fff" />
      <div style={{ position: 'absolute', left: 264, top: 637, width: 456, height: 225, boxSizing: 'border-box', border: '3px solid #ff0000' }} />
    </div>
  );
}
